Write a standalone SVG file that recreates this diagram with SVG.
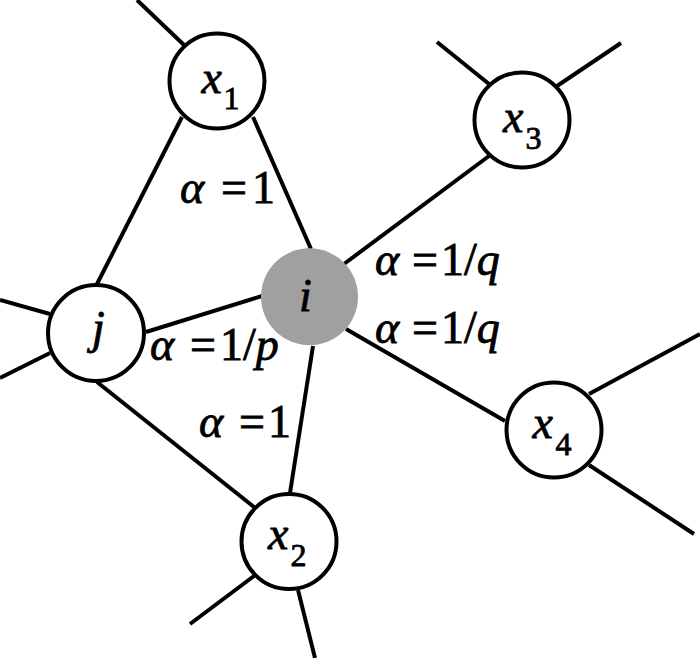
<svg xmlns="http://www.w3.org/2000/svg" width="700" height="658" viewBox="0 0 700 658">
<style>
.e{stroke:#000;stroke-width:4;fill:none;stroke-linecap:butt}
.n{fill:#fff;stroke:#000;stroke-width:4}
.c{fill:#a0a0a0;stroke:none}
.t{font-family:'Liberation Serif','Times New Roman',serif;font-size:46px;fill:#000;stroke:#000;stroke-width:0.8}
.it{font-style:italic}
.s{font-size:32px;font-style:normal}
</style>
<rect width="700" height="658" fill="#fff"/>
<g id="connectors">
<line class="e" x1="137" y1="0" x2="184" y2="45"/>
<line class="e" x1="182" y1="117" x2="97" y2="284"/>
<line class="e" x1="253" y1="117" x2="311" y2="249"/>
<line class="e" x1="437" y1="42" x2="489" y2="84"/>
<line class="e" x1="557" y1="86" x2="621" y2="43"/>
<line class="e" x1="489" y1="156" x2="344" y2="264"/>
<line class="e" x1="346" y1="329" x2="505" y2="421"/>
<line class="e" x1="589" y1="394" x2="700" y2="334"/>
<line class="e" x1="589" y1="465" x2="694" y2="534"/>
<line class="e" x1="313" y1="346" x2="290" y2="493"/>
<line class="e" x1="146" y1="332" x2="262" y2="296"/>
<line class="e" x1="0" y1="300" x2="50" y2="314"/>
<line class="e" x1="0" y1="378" x2="50" y2="353"/>
<line class="e" x1="97" y1="382" x2="254" y2="507"/>
<line class="e" x1="254" y1="576" x2="190" y2="624"/>
<line class="e" x1="298" y1="590" x2="315" y2="658"/>
</g>
<g id="node-x1"><circle class="n" cx="217" cy="81" r="47.5"/><text class="t"><tspan class="it" x="201.5" y="93">x</tspan><tspan class="s" x="223.5" y="109">1</tspan></text></g>
<g id="node-x3"><circle class="n" cx="522" cy="120" r="47.5"/><text class="t"><tspan class="it" x="503" y="131.5">x</tspan><tspan class="s" x="525.5" y="149">3</tspan></text></g>
<g id="node-i"><circle class="c" cx="309.5" cy="296.7" r="48.5"/><text class="t it" x="299" y="311">i</text></g>
<g id="node-j"><circle class="n" cx="96" cy="333" r="48"/><text class="t it" x="92" y="343">j</text></g>
<g id="node-x4"><circle class="n" cx="554" cy="430" r="47.5"/><text class="t"><tspan class="it" x="532.5" y="438">x</tspan><tspan class="s" x="555.5" y="455">4</tspan></text></g>
<g id="node-x2"><circle class="n" cx="289" cy="541.5" r="47.5"/><text class="t"><tspan class="it" x="268" y="549">x</tspan><tspan class="s" x="290.5" y="566">2</tspan></text></g>
<g id="labels">
<text class="t"><tspan class="it" x="180" y="203">α</tspan><tspan x="221" y="203">=</tspan><tspan x="252" y="203">1</tspan></text>
<text class="t"><tspan class="it" x="375" y="275">α</tspan><tspan x="412" y="275">=</tspan><tspan x="441" y="275">1/</tspan><tspan class="it">q</tspan></text>
<text class="t"><tspan class="it" x="375" y="343">α</tspan><tspan x="412" y="343">=</tspan><tspan x="441" y="343">1/</tspan><tspan class="it">q</tspan></text>
<text class="t"><tspan class="it" x="150" y="360">α</tspan><tspan x="190" y="360">=</tspan><tspan x="220" y="360">1/</tspan><tspan class="it">p</tspan></text>
<text class="t"><tspan class="it" x="199" y="437">α</tspan><tspan x="239" y="437">=</tspan><tspan x="268" y="437">1</tspan></text>
</g>
</svg>
